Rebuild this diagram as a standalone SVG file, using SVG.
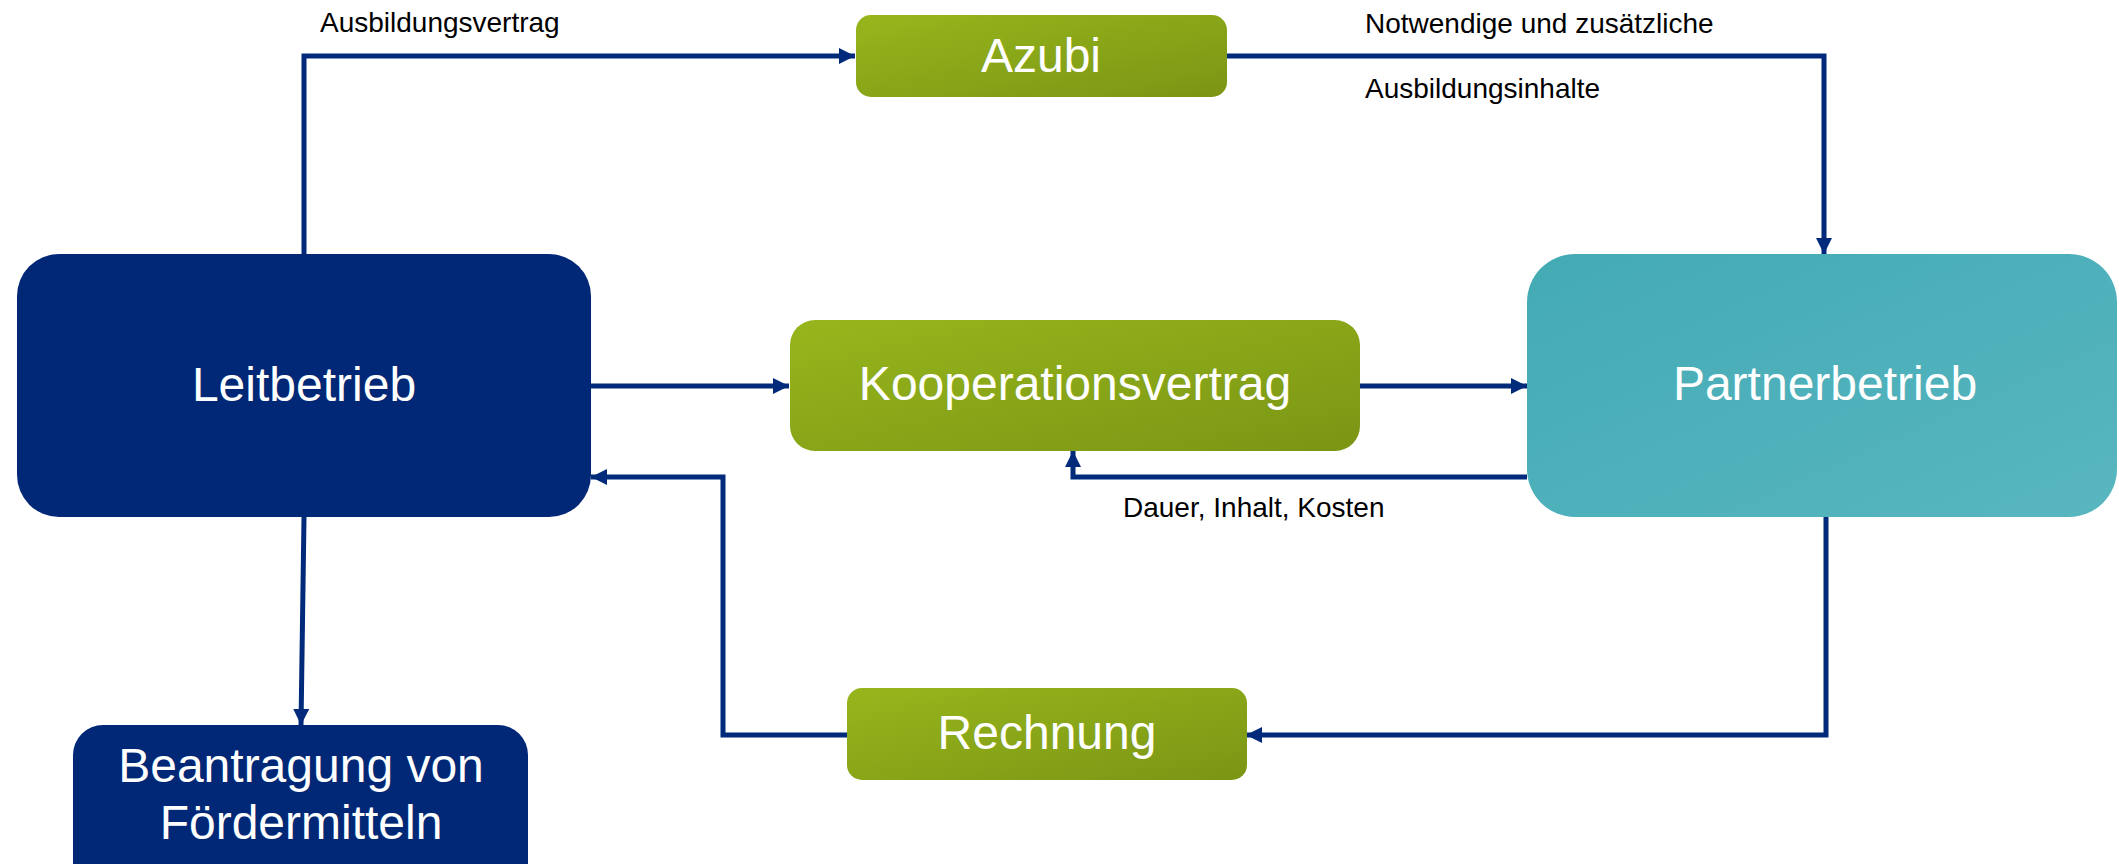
<svg xmlns="http://www.w3.org/2000/svg" width="2119" height="864" viewBox="0 0 2119 864">
<defs>
<linearGradient id="gGreen" x1="0" y1="0" x2="1" y2="1">
<stop offset="0" stop-color="#97B61C"/>
<stop offset="1" stop-color="#7B9514"/>
</linearGradient>
<linearGradient id="gTeal" x1="0" y1="0" x2="1" y2="1">
<stop offset="0" stop-color="#43AAB4"/>
<stop offset="1" stop-color="#58B6C0"/>
</linearGradient>
<marker id="arr" markerUnits="userSpaceOnUse" markerWidth="16" markerHeight="16" viewBox="0 0 16 16" refX="16" refY="8" orient="auto">
<path d="M0,0 L16,8 L0,16 Z" fill="#012A7A"/>
</marker>
</defs>
<style>
.navy{fill:#002876}
.green{fill:url(#gGreen)}
.teal{fill:url(#gTeal)}
.big{font-family:"Liberation Sans",Arial,sans-serif;font-size:48px;fill:#ffffff;text-anchor:middle}
.lbl{font-family:"Liberation Sans",Arial,sans-serif;font-size:28px;fill:#000000}
.conn{fill:none;stroke:#012A7A;stroke-width:5;marker-end:url(#arr)}
</style>
<rect width="2119" height="864" fill="#ffffff"/>
<g id="connectors">
<path class="conn" d="M304,254 L304,56 L855,56"/>
<path class="conn" d="M1226,56 L1824,56 L1824,254"/>
<path class="conn" d="M591,386 L789,386"/>
<path class="conn" d="M1359,386 L1527,386"/>
<path class="conn" d="M1527,477 L1073,477 L1073,451"/>
<path class="conn" d="M1826,517 L1826,735 L1246,735"/>
<path class="conn" d="M847,735 L723,735 L723,477 L591,477"/>
<path class="conn" d="M304,517 L301,725"/>
<text class="lbl" x="320" y="32">Ausbildungsvertrag</text>
<text class="lbl" x="1365" y="33">Notwendige und zusätzliche</text>
<text class="lbl" x="1365" y="98">Ausbildungsinhalte</text>
<text class="lbl" x="1123" y="517">Dauer, Inhalt, Kosten</text>
</g>
<g id="leitbetrieb">
<rect class="navy" x="17" y="254" width="574" height="263" rx="42" ry="42"/>
<text class="big" x="304" y="401">Leitbetrieb</text>
</g>
<g id="azubi">
<rect class="green" x="856" y="15" width="371" height="82" rx="15" ry="15"/>
<text class="big" x="1041" y="72">Azubi</text>
</g>
<g id="kooperationsvertrag">
<rect class="green" x="790" y="320" width="570" height="131" rx="25" ry="25"/>
<text class="big" x="1075" y="400">Kooperationsvertrag</text>
</g>
<g id="partnerbetrieb">
<rect class="teal" x="1527" y="254" width="590" height="263" rx="48" ry="48"/>
<text class="big" x="1825" y="400">Partnerbetrieb</text>
</g>
<g id="rechnung">
<rect class="green" x="847" y="688" width="400" height="92" rx="15" ry="15"/>
<text class="big" x="1047" y="749">Rechnung</text>
</g>
<g id="beantragung">
<rect class="navy" x="73" y="725" width="455" height="170" rx="30" ry="30"/>
<text class="big" x="301" y="782">Beantragung von</text>
<text class="big" x="301" y="839">Fördermitteln</text>
</g>
</svg>
